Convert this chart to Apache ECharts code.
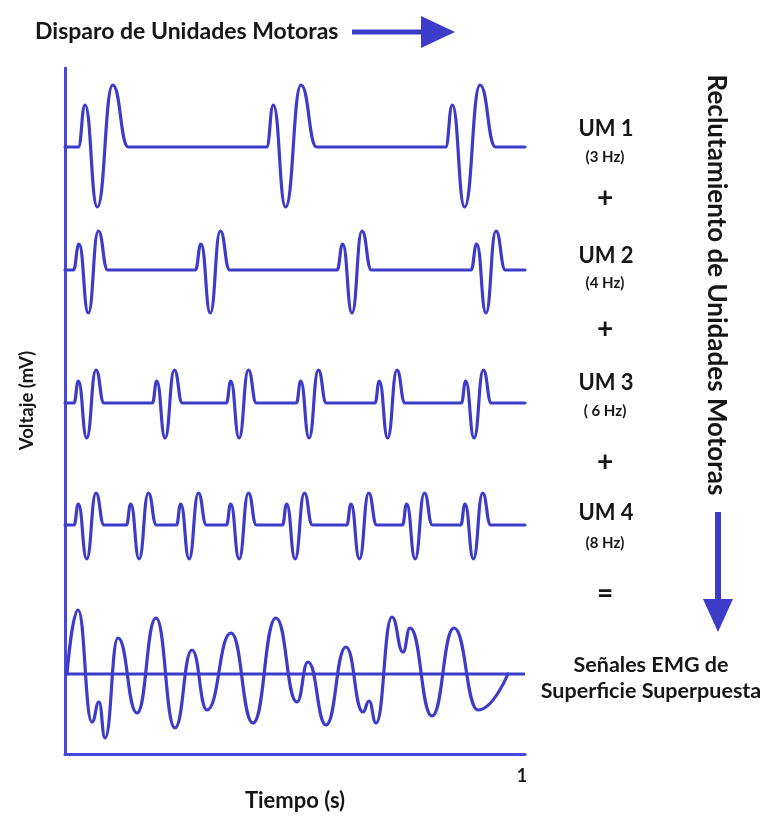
<!DOCTYPE html>
<html>
<head>
<meta charset="utf-8">
<script src="https://cdn.jsdelivr.net/npm/echarts@6/dist/echarts.min.js"></script>
<style>
  html, body { margin: 0; padding: 0; background: #ffffff; }
  #chart { width: 769px; height: 817px; }
</style>
</head>
<body>
<div id="chart"></div>
<script>
// Firing times (s) of each motor unit: time at which each action potential starts
const um1Fire = [0.0289, 0.4383, 0.8274];
const um2Fire = [0.0181, 0.2833, 0.5913, 0.8826];
const um3Fire = [0.0196, 0.1900, 0.3509, 0.5030, 0.6739, 0.8617];
const um4Fire = [0.0196, 0.1335, 0.2422, 0.3509, 0.4726, 0.6124, 0.7335, 0.8602];

// Action potential shape of each unit: start, small peak, dip, main peak, end
const um1ShapeT = [0, 0.0146, 0.0413, 0.0748, 0.1087];
const um1ShapeV = [0, 0.42, -0.60, 0.62, 0];
const um2ShapeT = [0, 0.0124, 0.0326, 0.0543, 0.0748];
const um2ShapeV = [0, 0.26, -0.43, 0.39, 0];
const um3ShapeT = [0, 0.0094, 0.0276, 0.0478, 0.0652];
const um3ShapeV = [0, 0.22, -0.35, 0.33, 0];
const um4ShapeT = [0, 0.0094, 0.0276, 0.0478, 0.0652];
const um4ShapeV = [0, 0.21, -0.34, 0.32, 0];

// Superimposed surface EMG: turning points of the recorded signal
const emgT = [0.0043, 0.0283, 0.0587, 0.0739, 0.0870, 0.1152, 0.1565, 0.1978, 0.2391, 0.2761,
              0.3087, 0.3609, 0.4087, 0.4587, 0.5043, 0.5283, 0.5674, 0.6109, 0.6478, 0.6609,
              0.6761, 0.7109, 0.7348, 0.7500, 0.7978, 0.8457, 0.8978, 0.9630];
const emgV = [0, 0.64, -0.48, -0.28, -0.64, 0.36, -0.39, 0.56, -0.54, 0.24,
              -0.36, 0.41, -0.49, 0.56, -0.28, 0.12, -0.51, 0.27, -0.38, -0.27,
              -0.49, 0.57, 0.22, 0.46, -0.42, 0.46, -0.36, 0];

// Labels
const unitNames = ['UM 1', 'UM 2', 'UM 3', 'UM 4'];
const unitRates = ['(3 Hz)', '(4 Hz)', '( 6 Hz)', '(8 Hz)'];
const timeTicks = [0, 1];

const TRACE = '#3c3cc8';
const AXIS = '#4747e0';
const TEXT = '#161616';
const FONT = 'Lato, "Open Sans", "DejaVu Sans", sans-serif';

function unitTrain(fire, shapeT, shapeV) {
  const pts = [[0, 0]];
  fire.forEach(function (f) {
    shapeT.forEach(function (dt, j) { pts.push([f + dt, shapeV[j]]); });
  });
  pts.push([1, 0]);
  return pts;
}

const emgData = emgT.map(function (t, i) { return [t, emgV[i]]; });

// Baselines (px) of the five stacked traces
const baselines = [147, 270, 403, 525, 674];
const trains = [
  unitTrain(um1Fire, um1ShapeT, um1ShapeV),
  unitTrain(um2Fire, um2ShapeT, um2ShapeV),
  unitTrain(um3Fire, um3ShapeT, um3ShapeV),
  unitTrain(um4Fire, um4ShapeT, um4ShapeV),
  emgData
];

const grids = [{ left: 65, right: 244, top: 68, bottom: 47 }];
const xAxes = [{
  gridIndex: 0, type: 'value', min: 0, max: 1, interval: 1,
  axisLine: { show: true, onZero: false, lineStyle: { color: AXIS, width: 3 } },
  axisTick: { show: false }, splitLine: { show: false },
  axisLabel: {
    margin: 13, color: TEXT, fontFamily: FONT, fontWeight: 'bold', fontSize: 18, padding: [0, 6, 0, 0],
    formatter: function (v) { return v === timeTicks[1] ? String(v) : ''; }
  },
  name: 'Tiempo (s)', nameLocation: 'middle', nameGap: 25,
  nameTextStyle: { color: TEXT, fontFamily: FONT, fontWeight: 'bold', fontSize: 22 }
}];
const yAxes = [{
  gridIndex: 0, type: 'value', min: 0, max: 1,
  axisLine: { show: true, onZero: false, lineStyle: { color: AXIS, width: 3 } },
  axisTick: { show: false }, splitLine: { show: false }, axisLabel: { show: false },
  name: 'Voltaje (mV)', nameLocation: 'middle', nameGap: 28,
  nameTextStyle: { color: TEXT, fontFamily: FONT, fontWeight: 'bold', fontSize: 18.5, padding: [0, 0, 0, 21] }
}];
const series = [];

baselines.forEach(function (b, i) {
  const gi = i + 1;
  grids.push({ left: 65, right: 244, top: b - 100, height: 200 });
  xAxes.push({ gridIndex: gi, type: 'value', min: 0, max: 1, show: false });
  yAxes.push({ gridIndex: gi, type: 'value', min: -1, max: 1, show: false });
  if (i === 4) {
    // straight baseline under the superimposed signal
    series.push({
      type: 'line', xAxisIndex: gi, yAxisIndex: gi, data: [[0, 0], [1, 0]],
      symbol: 'none', silent: true, lineStyle: { color: TRACE, width: 3 }
    });
  }
  series.push({
    type: 'line', xAxisIndex: gi, yAxisIndex: gi, data: trains[i],
    smooth: 0.5, smoothMonotone: 'x', symbol: 'none', silent: true,
    lineStyle: { color: TRACE, width: 3.2, join: 'round', cap: 'round' }
  });
});

function label(text, x, y, size, weight) {
  return {
    type: 'text', x: x, y: y, silent: true,
    style: {
      text: text, fill: TEXT, font: weight + ' ' + size + 'px ' + FONT,
      align: 'center', verticalAlign: 'middle', textAlign: 'center', textVerticalAlign: 'middle'
    }
  };
}

const unitY = [129, 256, 383, 513];
const rateY = [157, 283, 411, 543];
const opY = [198, 329, 462, 594];
const ops = ['+', '+', '+', '='];

const graphics = [];
unitNames.forEach(function (n, i) {
  graphics.push(label(n, 606, unitY[i], 22, 'bold'));
  graphics.push(label(unitRates[i], 605, rateY[i], 15, 'bold'));
  graphics.push(label(ops[i], 605, opY[i], 28, 'bold'));
});
graphics.push(label('Señales EMG de', 651, 665, 21.5, 'bold'));
graphics.push(label('Superficie Superpuesta', 651, 691, 21.5, 'bold'));

// Top caption and its arrow
graphics.push({
  type: 'text', x: 35, y: 32, silent: true,
  style: {
    text: 'Disparo de Unidades Motoras', fill: TEXT, font: 'bold 23px ' + FONT,
    align: 'left', verticalAlign: 'middle', textAlign: 'left', textVerticalAlign: 'middle'
  }
});
graphics.push({ type: 'rect', silent: true, shape: { x: 352, y: 29.5, width: 72, height: 5 }, style: { fill: TRACE } });
graphics.push({ type: 'polygon', silent: true, shape: { points: [[421, 16], [455, 32], [421, 48]] }, style: { fill: TRACE } });

// Right-hand vertical caption and its arrow
graphics.push({
  type: 'text', x: 716, y: 285, rotation: -Math.PI / 2, silent: true,
  style: {
    text: 'Reclutamiento de Unidades Motoras', fill: TEXT, font: 'bold 26px ' + FONT,
    align: 'center', verticalAlign: 'middle', textAlign: 'center', textVerticalAlign: 'middle'
  }
});
graphics.push({ type: 'rect', silent: true, shape: { x: 715, y: 512, width: 6, height: 90 }, style: { fill: TRACE } });
graphics.push({ type: 'polygon', silent: true, shape: { points: [[703, 599], [733, 599], [718, 632]] }, style: { fill: TRACE } });

const chart = echarts.init(document.getElementById('chart'), null, { renderer: 'canvas' });
chart.setOption({
  animation: false,
  backgroundColor: '#ffffff',
  grid: grids,
  xAxis: xAxes,
  yAxis: yAxes,
  series: series,
  graphic: graphics
});
</script>
</body>
</html>
